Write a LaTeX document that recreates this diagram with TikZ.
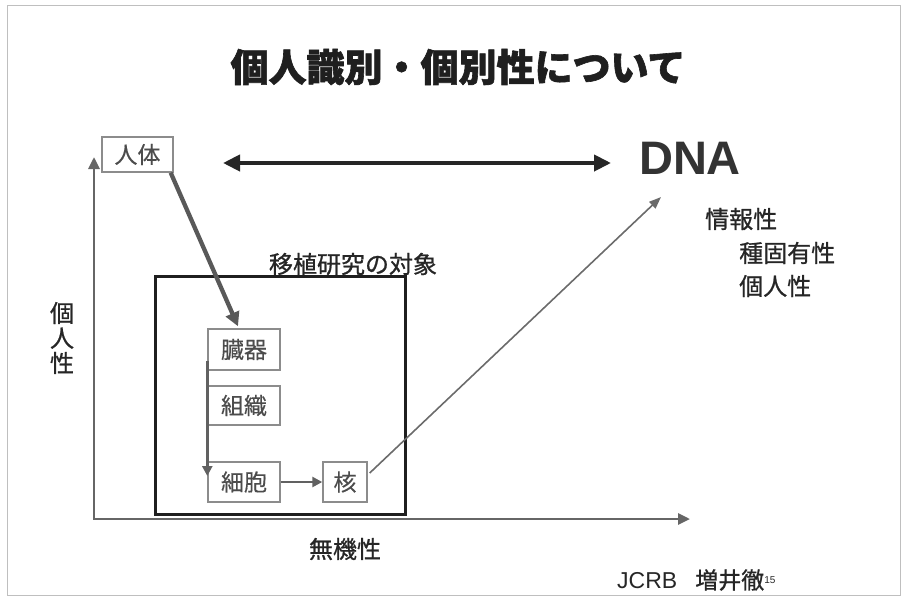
\documentclass[tikz,border=0pt]{standalone}
\usepackage{fontspec}
\setmainfont{Liberation Sans}
\newfontfamily\jp[BoldFeatures={FakeBold=1.6}]{Noto Sans CJK JP}
\newfontfamily\jpm[FakeBold=0.9]{Noto Sans CJK JP}
\newfontfamily\jpl[FakeBold=0.4]{Noto Sans CJK JP}
\usetikzlibrary{arrows.meta}
\begin{document}
\begin{tikzpicture}[x=1pt,y=-1pt,
  jtext/.style={font=\jpm\fontsize{24}{25}\selectfont, text=black!85, inner sep=0pt},
  lbox/.style={draw=black!45, line width=1.4pt, font=\jpl\fontsize{23}{24}\selectfont, text=black!70, inner sep=0pt},
  axis/.style={draw=black!60, line width=2.8pt, {Triangle[length=12pt,width=11pt]}-{Triangle[length=12pt,width=11pt]}},
  dbl/.style={draw=black!85, line width=4pt, {Triangle[length=17pt,width=16pt]}-{Triangle[length=17pt,width=16pt]}},
  garrow/.style={draw=black!65, line width=4.3pt, -{Triangle[length=14pt,width=14pt]}},
  sarrow/.style={draw=black!62, line width=2.6pt, -{Triangle[length=10pt,width=10pt]}},
  tarrow/.style={draw=black!58, line width=1.6pt, -{Triangle[length=12pt,width=9pt]}}
]
\useasboundingbox (0,0) rectangle (904,598);
\draw[black!25, line width=1pt] (7,5) rectangle (900,595);

% title
\node[font=\jp\bfseries\fontsize{38}{40}\selectfont, text=black!88, inner sep=0pt] (title) at (458,67) {個人識別・個別性について};

% axes
\coordinate (ytop) at (94,157);
\coordinate (origin) at (94,519);
\coordinate (xend) at (690,519);
\draw[axis] (ytop) -- (origin) -- (xend);

% nodes
\node[lbox, minimum width=71pt, minimum height=35pt] (jintai) at (137.5,154.5) {人体};
\node[font=\bfseries\fontsize{47}{50}\selectfont, text=black!80, inner sep=0pt] (dna) at (690,158) {DNA};

\node[draw=black!88, line width=3pt, minimum width=250pt, minimum height=238pt, inner sep=0pt] (target) at (280,395) {};
\node[jtext] (tlabel) at (353,264) {移植研究の対象};

\node[lbox, minimum width=72pt, minimum height=41pt] (zoki) at (244,349.5) {臓器};
\node[lbox, minimum width=72pt, minimum height=39pt] (soshiki) at (244,405.5) {組織};
\node[lbox, minimum width=72pt, minimum height=40pt] (saibo) at (244,482) {細胞};
\node[lbox, minimum width=44pt, minimum height=40pt] (kaku) at (345,482) {核};

\node[jtext, anchor=west] (joho) at (705,219) {情報性};
\node[jtext, anchor=west] (shu) at (739,253) {種固有性};
\node[jtext, anchor=west] (kojin) at (739,286) {個人性};

\node[jtext, align=center, font=\jpm\fontsize{24}{25}\selectfont] (ylabel) at (62,338) {個\\人\\性};
\node[jtext] (xlabel) at (345,549) {無機性};
\node[anchor=west, inner sep=0pt, text=black!85, font=\fontsize{23}{24}\selectfont] (credit) at (617,580) {JCRB\hspace{18pt}{\jpm 増井徹}\raisebox{5pt}{\fontsize{10}{10}\selectfont 15}};

% connectors
\coordinate (a1) at (223,163);
\coordinate (a2) at (611,163);
\draw[dbl] (a1) -- (a2);
\draw[garrow] ([xshift=-3pt]jintai.south east) -- ([xshift=-6pt,yshift=2pt]zoki.north);
\draw[sarrow] ([yshift=10pt]zoki.south west) -- ([yshift=6pt]saibo.west);
\draw[sarrow] (saibo.east) -- (kaku.west);
\coordinate (dnatip) at (661,197);
\draw[tarrow] ([xshift=2pt,yshift=9pt]kaku.east) -- (dnatip);
\end{tikzpicture}
\end{document}
